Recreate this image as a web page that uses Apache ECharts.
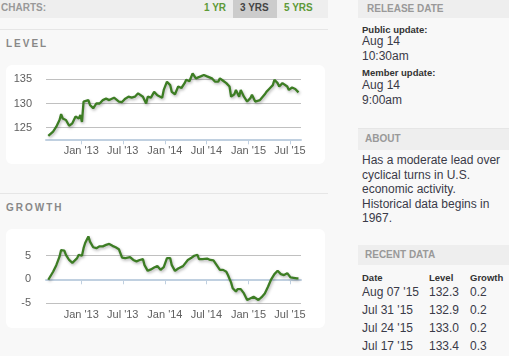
<!DOCTYPE html>
<html><head><meta charset="utf-8">
<script src="https://cdn.jsdelivr.net/npm/echarts@6/dist/echarts.min.js"></script>
<style>
body{margin:0;width:509px;height:356px;overflow:hidden;background:#f8f8f8;font-family:"Liberation Sans",Arial,sans-serif;position:relative;color:#333}
.a{position:absolute;white-space:nowrap}
.bar{position:absolute;background:#eeeeee}
.hd{font-size:10px;font-weight:bold;color:#999;line-height:12px}
.b11{font-size:9.5px;font-weight:bold;line-height:10px;color:#333}
.t13{font-size:12px;line-height:13px;color:#3a3a48}
.box{position:absolute;background:#fff;border-radius:6px}
.sep{position:absolute;height:1px;background:#e6e6e6}
#chart{position:absolute;left:0;top:0;width:509px;height:356px}
</style></head><body>
<div class="bar" style="left:0;top:0;width:328px;height:18px"></div>
<div class="bar" style="left:233px;top:0;width:44px;height:18px;background:#cccccc"></div>
<div class="a hd" style="left:1px;top:1.5px;color:#999">CHARTS:</div>
<div class="a hd" style="left:204px;top:1.5px;color:#5e9a38">1 YR</div>
<div class="a hd" style="left:240px;top:1.5px;color:#444">3 YRS</div>
<div class="a hd" style="left:284px;top:1.5px;color:#5e9a38">5 YRS</div>
<div class="sep" style="left:0;top:29px;width:328px"></div>
<div class="a hd" style="left:6px;top:38px;color:#888;letter-spacing:2px">LEVEL</div>
<div class="box" style="left:6px;top:65px;width:319px;height:99px"></div>
<div class="sep" style="left:0;top:193px;width:328px"></div>
<div class="a hd" style="left:6px;top:201.5px;color:#888;letter-spacing:2px">GROWTH</div>
<div class="box" style="left:6px;top:229px;width:319px;height:99px"></div>

<div class="bar" style="left:358px;top:0;width:151px;height:18px"></div>
<div class="a hd" style="left:367px;top:3px">RELEASE DATE</div>
<div class="a b11" style="left:362px;top:24.5px">Public update:</div>
<div class="a t13" style="left:362px;top:35px">Aug 14</div>
<div class="a t13" style="left:362px;top:50px">10:30am</div>
<div class="a b11" style="left:362px;top:68px">Member update:</div>
<div class="a t13" style="left:362px;top:78.5px">Aug 14</div>
<div class="a t13" style="left:362px;top:94px">9:00am</div>
<div class="sep" style="left:358px;top:128px;width:151px"></div>
<div class="bar" style="left:358px;top:129px;width:151px;height:21px"></div>
<div class="a hd" style="left:365px;top:133px">ABOUT</div>
<div class="a t13" style="left:362px;top:153px;line-height:14.5px">Has a moderate lead over<br>cyclical turns in U.S.<br>economic activity.<br>Historical data begins in<br>1967.</div>
<div class="bar" style="left:358px;top:245px;width:151px;height:20px"></div>
<div class="a hd" style="left:365px;top:249px">RECENT DATA</div>
<div id="tbl"></div>
<div id="chart"></div>
<script>
// ---- data ----
const recentDates = ["Aug 07 '15", "Jul 31 '15", "Jul 24 '15", "Jul 17 '15"];
const recentLevel = ["132.3", "132.9", "133.0", "133.4"];
const recentGrowth = ["0.2", "0.2", "0.2", "0.3"];

// week offsets from Aug 10 2012 (weekly data)
const levelWeeks = [0,3,5,7,8,9,11,13,15,17,19,20,21,22,23,25,26,28,30,32,34,36,38,41,44,46,48,50,52,54,56,57,59,61,62,64,66,68,71,72,74,76,77,79,81,83,85,86,88,90,92,93,95,97,99,100,102,103,104,106,107,109,111,113,114,116,117,119,120,122,124,126,127,129,130,132,133,135,136,138,140,141,143,144,146,147,149,150,151,152,153,154,155,156];
const levelValues = [123.3,124.2,125.2,126.6,127.8,126.9,126.6,125.4,125.9,127.3,126.9,127.6,126.2,130.4,130.4,130.7,129.7,129.0,130.0,130.0,130.7,131.0,130.7,131.2,130.4,130.3,131.0,131.4,131.2,131.4,132.1,132.4,131.4,130.0,131.4,131.2,132.4,131.7,131.2,132.8,134.5,133.8,132.4,131.9,133.5,133.2,134.2,134.9,134.6,136.2,135.2,135.6,135.6,135.9,135.6,136.0,135.2,135.6,134.5,134.5,135.2,134.7,134.2,133.5,131.4,131.9,132.8,131.4,132.8,131.4,130.4,131.1,131.8,130.4,130.3,130.7,131.1,131.9,132.4,133.1,133.8,134.9,134.2,133.5,134.2,133.8,133.5,132.8,133.2,133.3,133.4,133.0,132.9,132.3];
const growthWeeks = [0,3,5,7,8,10,11,13,15,16,18,19,21,22,23,25,26,28,30,32,34,36,38,40,42,44,45,46,48,51,53,55,57,59,60,62,64,66,68,70,72,74,76,77,79,81,84,85,87,89,91,93,94,96,99,101,103,105,107,109,111,112,114,115,117,118,120,122,124,125,128,129,131,133,135,137,139,141,143,145,147,149,151,153,154,155,156];
const growthValues = [-0.1,1.6,3.0,4.8,6.2,6.1,5.2,4.1,3.5,3.5,4.5,5.2,5.0,6.6,7.7,9.1,8.0,6.8,6.6,7.0,7.0,7.3,7.5,7.1,6.8,6.4,5.5,4.6,4.5,4.7,4.1,3.8,4.1,4.3,3.0,1.8,2.1,2.5,2.8,2.0,2.6,4.5,4.5,3.0,1.8,2.3,2.8,3.0,4.1,4.5,5.0,5.2,4.3,4.3,4.4,4.1,4.0,3.0,2.0,2.0,1.6,0.9,-0.7,-1.9,-2.6,-2.1,-2.1,-3.0,-4.4,-4.6,-3.7,-4.0,-4.4,-3.8,-3.0,-1.6,0.0,1.1,1.8,1.1,0.9,1.3,0.4,0.3,0.2,0.2,0.2];
const levelTicks = [125, 130, 135];
const growthTicks = [-5, 0, 5];
const xTickDates = ["2013-01-01","2013-07-01","2014-01-01","2014-07-01","2015-01-01","2015-07-01"];
const monthNames = ["Jan","Feb","Mar","Apr","May","Jun","Jul","Aug","Sep","Oct","Nov","Dec"];

// ---- table ----
(function(){
  let h = '<div class="a b11" style="left:362px;top:273px">Date</div>'+
          '<div class="a b11" style="left:429px;top:273px">Level</div>'+
          '<div class="a b11" style="left:470px;top:273px">Growth</div>';
  const ys=[286,304,322,340];
  for(let i=0;i<recentDates.length;i++){
    h+='<div class="a t13" style="left:362px;top:'+ys[i]+'px">'+recentDates[i]+'</div>'+
       '<div class="a t13" style="left:429px;top:'+ys[i]+'px">'+recentLevel[i]+'</div>'+
       '<div class="a t13" style="left:470px;top:'+ys[i]+'px">'+recentGrowth[i]+'</div>';
  }
  document.getElementById('tbl').innerHTML=h;
})();

// ---- chart ----
const DAY = 86400000;
const start = Date.UTC(2012,7,10);
const wk = w => start + w*7*DAY;
const xMin = Date.UTC(2012,6,31), xMax = Date.UTC(2015,7,18);
const tickTs = xTickDates.map(s => Date.parse(s+"T00:00:00Z"));
function fmt(v){ const d=new Date(v); return monthNames[d.getUTCMonth()]+" '"+String(d.getUTCFullYear()).slice(2); }

function xAx(i){
  return {type:'value', gridIndex:i, min:xMin, max:xMax, scale:true,
    axisLine:{show:true, lineStyle:{color:'#C0D0E0', width:2}},
    axisTick:{show:true, length:5, customValues:tickTs, lineStyle:{color:'#C0D0E0', width:1}},
    axisLabel:{customValues:tickTs, formatter:fmt, color:'#606060', fontSize:11, margin:6, hideOverlap:false, fontFamily:'Liberation Sans'},
    splitLine:{show:false}};
}
function yAx(i,min,max,ticks,margin){
  return {type:'value', gridIndex:i, min:min, max:max,
    axisLine:{show:false},
    axisTick:{show:false, customValues:ticks},
    axisLabel:{customValues:ticks, color:'#606060', fontSize:11, margin:margin, fontFamily:'Liberation Sans'},
    splitLine:{show:true, lineStyle:{color:'#C0C0C0', width:1}}};
}
const lineStyle = {color:'#3d7d24', width:2.3, shadowColor:'rgba(0,0,0,0.3)', shadowBlur:3, shadowOffsetX:1, shadowOffsetY:1.5};
const chart = echarts.init(document.getElementById('chart'), null, {renderer:'canvas'});
chart.setOption({
  animation:false,
  backgroundColor:'transparent',
  grid:[
    {left:46, width:255, top:69.6, height:69.7},
    {left:46, width:255, top:232.2, height:71.1}
  ],
  xAxis:[xAx(0), xAx(1)],
  yAxis:[yAx(0,122.6,137,levelTicks,14), yAx(1,-5.1,10,growthTicks,15)],
  series:[
    {type:'line', xAxisIndex:0, yAxisIndex:0, showSymbol:false, lineStyle:lineStyle,
     data: levelWeeks.map((w,i)=>[wk(w), levelValues[i]])},
    {type:'line', xAxisIndex:1, yAxisIndex:1, showSymbol:false, lineStyle:lineStyle,
     data: growthWeeks.map((w,i)=>[wk(w), growthValues[i]])}
  ]
});
</script>
</body></html>
